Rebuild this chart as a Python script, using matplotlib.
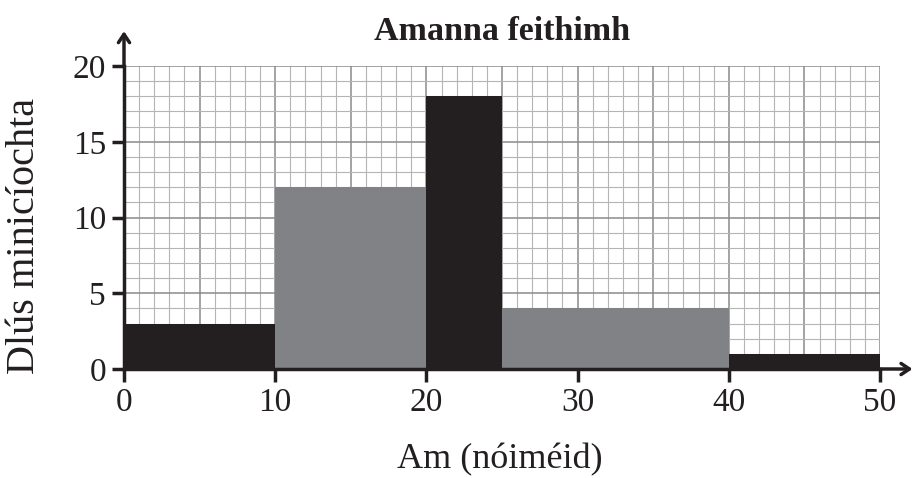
import matplotlib.pyplot as plt
import numpy as np

plt.rcParams['font.family'] = ['Liberation Serif', 'DejaVu Serif']

# histogram data (class edges, frequency density)
bin_left = [0, 10, 20, 25, 40]
bin_width = [10, 10, 5, 15, 10]
density = [3, 12, 18, 4, 1]
bar_colors = ['#231f20', '#808285', '#231f20', '#808285', '#231f20']

x_ticks = [0, 10, 20, 30, 40, 50]
y_ticks = [0, 5, 10, 15, 20]

fig = plt.figure(figsize=(9.18, 4.78), dpi=100)
ax = fig.add_axes([124/918, 1 - 369/478, (880 - 124)/918, (369 - 66)/478])

# grid paper
for v in range(0, 51):
    major = v % 5 == 0
    ax.plot([v, v], [0, 20], color='#8a8a8a' if major else '#b5b5b5',
            lw=1.1 if major else 0.8, zorder=0)
for v in range(0, 21):
    major = v % 5 == 0
    ax.plot([0, 50], [v, v], color='#8a8a8a' if major else '#b5b5b5',
            lw=1.1 if major else 0.8, zorder=0)

ax.bar(bin_left, density, width=bin_width, align='edge', color=bar_colors,
       edgecolor='none', zorder=2)

ax.set_xlim(0, 50)
ax.set_ylim(0, 20)
ax.set_xticks(x_ticks)
ax.set_yticks(y_ticks)
ax.tick_params(axis='both', labelsize=24, width=2.5, length=9, color='#231f20',
               labelcolor='#231f20', direction='out')
ax.tick_params(axis='x', pad=4)
ax.tick_params(axis='y', pad=4)

for s in ['top', 'right']:
    ax.spines[s].set_visible(False)
for s in ['left', 'bottom']:
    ax.spines[s].set_linewidth(2.5)
    ax.spines[s].set_color('#231f20')
    ax.spines[s].set_zorder(3)

# axis arrows
ax.annotate('', xy=(0, 1.115), xytext=(0, 1.0), xycoords='axes fraction',
            arrowprops=dict(arrowstyle='->,head_length=0.6,head_width=0.4',
                            lw=2.5, color='#231f20', shrinkA=0, shrinkB=0),
            annotation_clip=False)
ax.annotate('', xy=(1.043, 0), xytext=(0.99, 0), xycoords='axes fraction',
            arrowprops=dict(arrowstyle='->,head_length=0.6,head_width=0.4',
                            lw=2.5, color='#231f20', shrinkA=0, shrinkB=0),
            annotation_clip=False)

ax.set_xlabel('Am (nóiméid)', fontsize=26, color='#231f20', va='center')
ax.xaxis.set_label_coords(0.497, -0.30)
ax.set_ylabel('Dlús minicíochta', fontsize=29, color='#231f20', va='center')
ax.yaxis.set_label_coords(-0.131, 0.44)
ax.set_title('Amanna feithimh', fontsize=24.5, fontweight='bold', color='#231f20',
             y=1.115, va='center', pad=0)

plt.savefig('out.png', dpi=100)
